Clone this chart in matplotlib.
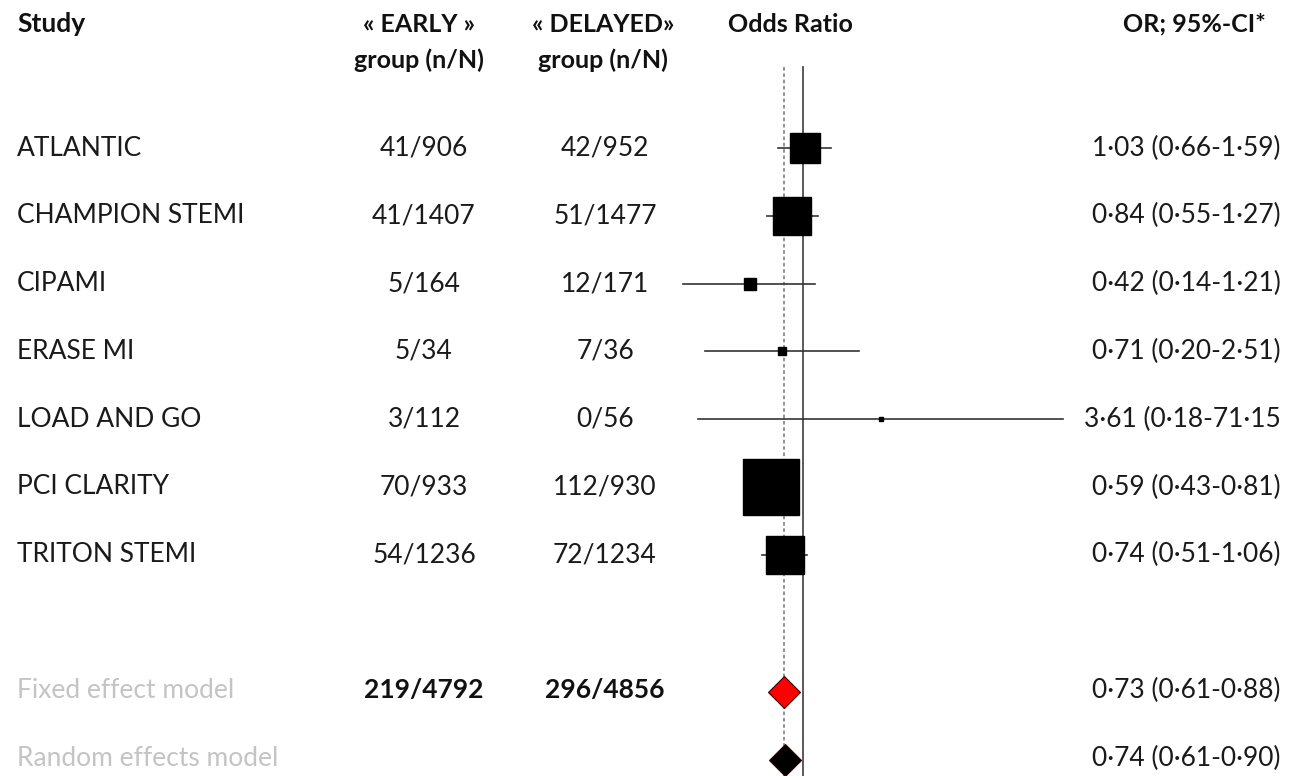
import matplotlib

matplotlib.use("Agg")
import matplotlib.pyplot as plt
import numpy as np

plt.rcParams["font.family"] = ["Lato", "DejaVu Sans"]

# data
studies = ["ATLANTIC", "CHAMPION STEMI", "CIPAMI", "ERASE MI",
           "LOAD AND GO", "PCI CLARITY", "TRITON STEMI"]
early_events = [41, 41, 5, 5, 3, 70, 54]
early_total = [906, 1407, 164, 34, 112, 933, 1236]
delayed_events = [42, 51, 12, 7, 0, 112, 72]
delayed_total = [952, 1477, 171, 36, 56, 930, 1234]
odds_ratio = [1.03, 0.84, 0.42, 0.71, 3.61, 0.59, 0.74]
ci_low = [0.66, 0.55, 0.14, 0.20, 0.18, 0.43, 0.51]
ci_high = [1.59, 1.27, 1.21, 2.51, 71.15, 0.81, 1.06]
weights = [11.7, 20.1, 2.3, 0.9, 0.3, 43.6, 21.1]  # % (square area)

models = ["Fixed effect model", "Random effects model"]
model_or = [0.73, 0.74]
model_colors = ["#ff0000", "#000000"]
or_labels = ["1·03 (0·66-1·59)", "0·84 (0·55-1·27)", "0·42 (0·14-1·21)",
             "0·71 (0·20-2·51)", "3·61 (0·18-71·15", "0·59 (0·43-0·81)",
             "0·74 (0·51-1·06)"]
model_or_labels = ["0·73 (0·61-0·88)", "0·74 (0·61-0·90)"]

W, H = 1289, 776
ROW0, ROW_STEP = 148, 67.8  # pixel y of first row, row spacing


def row_of(py):
    return (py - ROW0) / ROW_STEP


fig = plt.figure(figsize=(W / 100, H / 100), dpi=100)
ax = fig.add_axes([0, 0, 1, 1])
ax.set_xlim(0, W)
ax.set_ylim(row_of(H), row_of(0))
ax.axis("off")

# forest panel: log x, OR=1 at px 803, ~61 px per ln unit
x0, x1 = 660, 1080
k = 61.0
fa = fig.add_axes([x0 / W, 0, (x1 - x0) / W, 1], sharey=ax)
fa.set_xscale("log")
fa.set_xlim(np.exp((x0 - 803) / k), np.exp((x1 - 803) / k))
fa.patch.set_alpha(0)
fa.axis("off")

fs = 19
txt = dict(fontsize=fs, va="center", color="#1a1a1a")
bold = dict(fontsize=fs, va="center", color="#111111", fontweight="bold")
head = dict(bold, fontsize=18)

# headers
ax.text(17, row_of(24), "Study", ha="left", **bold)
ax.text(419, row_of(24), "« EARLY »", ha="center", **head)
ax.text(419, row_of(60), "group (n/N)", ha="center", **head)
ax.text(603, row_of(24), "« DELAYED»", ha="center", **head)
ax.text(603, row_of(60), "group (n/N)", ha="center", **head)
ax.text(790, row_of(24), "Odds Ratio", ha="center", **head)
ax.text(1266, row_of(24), "OR; 95%-CI*", ha="right", **head)

rows = np.arange(len(studies))
for i, name in enumerate(studies):
    ax.text(17, rows[i], name, ha="left", **txt)
    ax.text(424, rows[i], f"{early_events[i]}/{early_total[i]}", ha="center", **txt)
    ax.text(605, rows[i], f"{delayed_events[i]}/{delayed_total[i]}", ha="center", **txt)
    ax.text(1281, rows[i], or_labels[i], ha="right", **txt)

model_rows = [len(studies) + 1, len(studies) + 2]
for j, name in enumerate(models):
    ax.text(17, model_rows[j], name, ha="left", fontsize=fs, va="center", color="#c4c4c4")
    ax.text(1281, model_rows[j], model_or_labels[j], ha="right", **txt)
ax.text(424, model_rows[0], f"{sum(early_events)}/{sum(early_total)}", ha="center", **bold)
ax.text(605, model_rows[0], f"{sum(delayed_events)}/{sum(delayed_total)}", ha="center", **bold)

# reference lines
top = row_of(67)
fa.plot([1, 1], [top, row_of(H)], color="#4d4d4d", lw=1.3, zorder=1)
fa.plot([model_or[0]] * 2, [top, row_of(H)], color="#8a8a8a", lw=1.3,
        ls=(0, (2, 1.5)), zorder=1)

# confidence intervals and weighted squares
px_per_pt = 100 / 72
for i in range(len(studies)):
    fa.plot([ci_low[i], ci_high[i]], [rows[i], rows[i]], color="#333333", lw=1.2, zorder=2)
    side = 56 * np.sqrt(weights[i] / max(weights))
    fa.plot(odds_ratio[i], rows[i], marker="s", color="black",
            markersize=max(side, 4) / px_per_pt, zorder=3)

# pooled diamonds
for j in range(len(models)):
    fa.plot(model_or[j], model_rows[j] + 0.03, marker="D", markersize=22.5 / px_per_pt,
            markerfacecolor=model_colors[j], markeredgecolor="#3a0000",
            markeredgewidth=0.8, zorder=4, clip_on=False)

fig.savefig("out.png", dpi=100)
